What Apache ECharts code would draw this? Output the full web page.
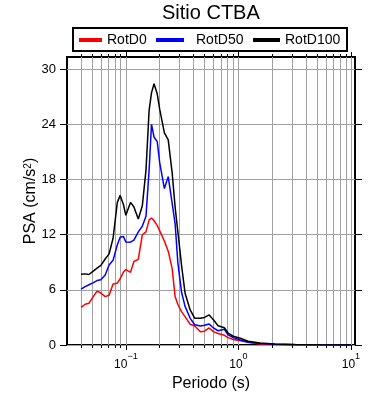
<!DOCTYPE html>
<html>
<head>
<meta charset="utf-8">
<script src="https://cdn.jsdelivr.net/npm/echarts@6/dist/echarts.min.js"></script>
<style>
html, body { margin: 0; padding: 0; background: #fff; }
#chart { width: 390px; height: 400px; }
</style>
</head>
<body>
<div id="chart"></div>
<script>
// periodos (s)
var periods = [0.04, 0.0435, 0.047, 0.051, 0.0555, 0.06, 0.0655, 0.071, 0.077, 0.084,
	0.089, 0.095, 0.1, 0.11, 0.118, 0.129, 0.14, 0.151, 0.161, 0.169,
	0.178, 0.19, 0.2, 0.22, 0.238, 0.258, 0.274, 0.29, 0.313, 0.336,
	0.373, 0.41, 0.46, 0.5, 0.55, 0.6, 0.66, 0.75, 0.81, 0.9,
	1.04, 1.22, 1.56, 2.1, 3.2, 5.3, 10];
var rotD0 = [4.1, 4.43, 4.54, 5.2, 5.85, 5.65, 5.26, 5.4, 6.64, 6.72,
	7.2, 7.9, 8.2, 7.9, 9.07, 9.3, 11.98, 12.3, 13.6, 13.8,
	13.5, 13.0, 12.4, 11.3, 10.2, 8.3, 5.26, 4.4, 3.6, 3.08,
	2.25, 2.07, 1.45, 1.5, 1.85, 1.45, 1.25, 1.05, 0.8, 0.6,
	0.45, 0.3, 0.12, 0.06, 0.03, 0.012, 0.01];
var rotD50 = [6.06, 6.35, 6.55, 6.75, 7.0, 7.1, 7.6, 8.7, 9.2, 10.9,
	11.7, 11.8, 11.2, 11.18, 11.4, 12.3, 12.9, 14.0, 19.0, 24.0,
	22.6, 22.1, 19.8, 17.0, 18.3, 15.4, 13.2, 8.9, 5.7, 4.2,
	2.9, 2.2, 2.07, 2.15, 2.29, 1.85, 1.55, 1.71, 1.1, 0.8,
	0.55, 0.3, 0.15, 0.07, 0.03, 0.015, 0.01];
var rotD100 = [7.7, 7.73, 7.66, 8.0, 8.35, 8.65, 9.35, 9.9, 11.6, 15.5,
	16.26, 15.3, 14.1, 15.5, 15.0, 13.7, 15.1, 19.0, 25.5, 27.4,
	28.4, 27.3, 25.6, 23.05, 22.3, 18.7, 15.0, 12.3, 8.6, 5.63,
	3.81, 2.9, 2.9, 3.0, 3.27, 2.75, 2.1, 1.88, 1.3, 0.95,
	0.73, 0.4, 0.22, 0.1, 0.05, 0.02, 0.01];

var yTicks = [0, 6, 12, 18, 24, 30];
var xMajor = [0.1, 1, 10];
var xMinor = [0.04, 0.05, 0.06, 0.07, 0.08, 0.09,
	0.2, 0.3, 0.4, 0.5, 0.6, 0.7, 0.8, 0.9,
	2, 3, 4, 5, 6, 7, 8, 9];
var xAll = xMinor.concat(xMajor).sort(function (a, b) { return a - b; });

var font = 'Liberation Sans, Arial, sans-serif';

function pairs(vals) {
	var out = [];
	for (var i = 0; i < periods.length; i++) {
		out.push([periods[i], vals[i]]);
	}
	return out;
}

function logAxis(pos, ticks, len, labels, lines) {
	return {
		type: 'log',
		logBase: 10,
		min: 0.03,
		max: 10.87,
		position: pos,
		axisLine: { show: false },
		axisTick: { show: true, customValues: ticks, length: len, lineStyle: { color: '#000', width: 1 } },
		axisLabel: labels ? {
			show: true,
			customValues: xMajor,
			margin: 7,
			fontFamily: font,
			color: '#000',
			formatter: function (v) {
				var e = Math.round(Math.log10(v));
				return '{b|10}{s|' + (e < 0 ? '\u2212' + (-e) : e) + '}';
			},
			rich: {
				b: { fontSize: 12, lineHeight: 19, fontFamily: font, color: '#000', verticalAlign: 'bottom' },
				s: { fontSize: 9, lineHeight: 9, fontFamily: font, color: '#000', verticalAlign: 'top' }
			}
		} : { show: false },
		splitLine: lines ? { show: true, lineStyle: { color: '#a0a0a0', width: 1 } } : { show: false }
	};
}

function valAxis(pos, labels) {
	return {
		type: 'value',
		min: 0,
		max: 31.3,
		interval: 6,
		position: pos,
		axisLine: { show: false },
		axisTick: { show: true, customValues: yTicks, length: 7, lineStyle: { color: '#000', width: 1 } },
		axisLabel: labels ? { show: true, customValues: yTicks, margin: 11, fontSize: 13, fontFamily: font, color: '#000' } : { show: false },
		splitLine: labels ? { show: true, lineStyle: { color: '#a0a0a0', width: 1 } } : { show: false }
	};
}

function lineSeries(name, vals, color) {
	return {
		name: name,
		type: 'line',
		data: pairs(vals),
		symbol: 'none',
		lineStyle: { color: color, width: 1.5 },
		itemStyle: { color: color },
		z: 5
	};
}

function legendAt(name, x, w, gap) {
	return {
		data: [name],
		left: x,
		top: 33,
		padding: 0,
		icon: 'rect',
		itemWidth: w,
		itemHeight: 4,
		textStyle: { fontSize: 14, fontFamily: font, color: '#000', padding: [0, 0, 0, gap] }
	};
}

var xBottom = logAxis('bottom', xMajor, 5, true, false);
xBottom.name = 'Periodo (s)';
xBottom.nameLocation = 'middle';
xBottom.nameGap = 30;
xBottom.nameTextStyle = { fontSize: 16, fontFamily: font, color: '#000' };

var yLeft = valAxis('left', true);
yLeft.name = 'PSA (cm/s{sup|2})';
yLeft.nameLocation = 'middle';
yLeft.nameGap = 28;
yLeft.nameMoveOverlap = false;
yLeft.nameTextStyle = {
	fontSize: 16, fontFamily: font, color: '#000',
	rich: { sup: { fontSize: 10, fontFamily: font, color: '#000', verticalAlign: 'top' } }
};

var myChart = echarts.init(document.getElementById('chart'), null, { renderer: 'canvas' });
var option = {
	backgroundColor: '#fff',
	animation: false,
	title: {
		text: 'Sitio CTBA',
		left: 162,
		top: 3,
		padding: 0,
		textStyle: { fontSize: 20, fontWeight: 'normal', fontFamily: font, color: '#000' }
	},
	legend: [
		legendAt('RotD0', 79, 23, 0),
		legendAt('RotD50', 156, 28, 7),
		legendAt('RotD100', 253, 27, 0)
	],
	graphic: [{
		type: 'rect',
		shape: { x: 73, y: 28, width: 274, height: 23 },
		style: { fill: 'none', stroke: '#000', lineWidth: 2 },
		z: 100
	}],
	grid: {
		left: 67, right: 35, top: 57, bottom: 55,
		show: true, borderColor: '#000', borderWidth: 2, backgroundColor: 'transparent'
	},
	xAxis: [
		xBottom,
		logAxis('bottom', xAll, 3, false, true),
		logAxis('top', xMajor, 5, false, false),
		logAxis('top', xAll, 3, false, false)
	],
	yAxis: [
		yLeft,
		valAxis('right', false)
	],
	series: [
		lineSeries('RotD0', rotD0, '#ff0000'),
		lineSeries('RotD50', rotD50, '#0000ff'),
		lineSeries('RotD100', rotD100, '#000000')
	]
};
myChart.setOption(option);
</script>
</body>
</html>
